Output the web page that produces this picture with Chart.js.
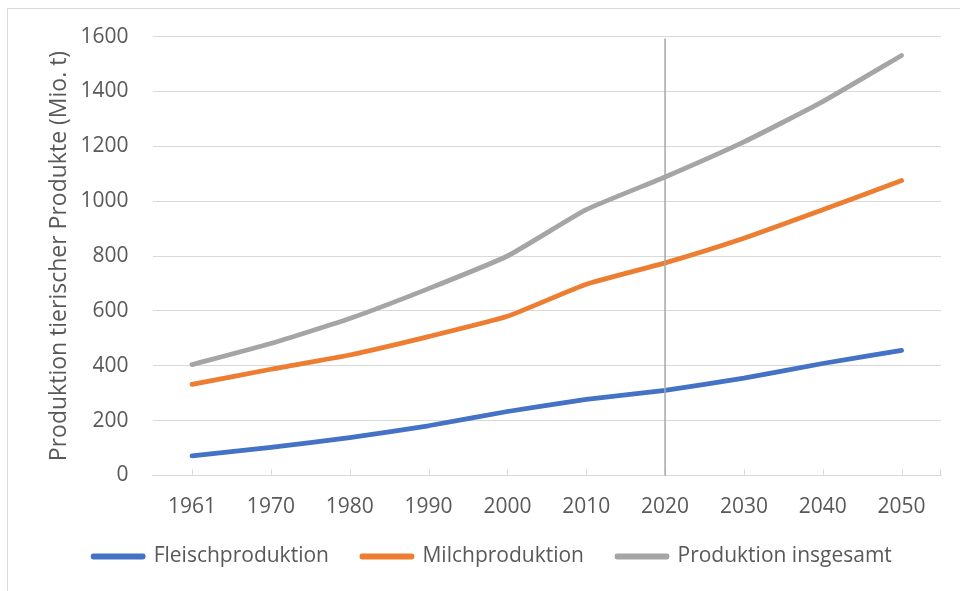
<!DOCTYPE html>
<html>
<head>
<meta charset="utf-8">
<script src="https://cdn.jsdelivr.net/npm/chart.js@4.4.1/dist/chart.umd.min.js"></script>
<style>
  html, body { margin: 0; padding: 0; background: #fff; overflow: hidden; }
  #frame { position: absolute; left: 7px; top: 8px; width: 1000px; height: 1000px;
           border-left: 1px solid #d9d9d9; border-top: 1px solid #d9d9d9; }
  #chart { position: absolute; left: 0; top: 0; }
</style>
</head>
<body>
<div id="frame"></div>
<canvas id="chart" width="960" height="591"></canvas>
<script>
// values (Mio. t)
const years = ['1961', '1970', '1980', '1990', '2000', '2010', '2020', '2030', '2040', '2050'];
const fleisch = [71, 102, 138, 181, 233, 277, 310, 355, 408, 456];
const milch = [332, 387, 439, 506, 580, 697, 775, 865, 969, 1075];
const gesamt = [404, 481, 572, 681, 800, 969, 1088, 1216, 1363, 1531];
const yMax = 1600;
const yStep = 200;
const markerYear = '2020';

const textColor = '#595959';
const gridColor = '#d9d9d9';

// inner tick marks on the category axis + vertical marker line at 2020
const overlay = {
    id: 'overlay',
    beforeDatasetsDraw(chart) {
        const {ctx, chartArea, scales: {x}} = chart;
        ctx.save();
        ctx.strokeStyle = gridColor;
        ctx.lineWidth = 1;
        ctx.beginPath();
        years.forEach((yr, i) => {
            const px = Math.round(x.getPixelForValue(i)) + 0.5;
            ctx.moveTo(px, chartArea.bottom);
            ctx.lineTo(px, chartArea.bottom - 6);
        });
        const rx = Math.round(chartArea.right) - 0.5;
        ctx.moveTo(rx, chartArea.bottom);
        ctx.lineTo(rx, chartArea.bottom - 6);
        ctx.stroke();
        ctx.restore();
    },
    afterDatasetsDraw(chart) {
        const {ctx, scales: {x, y}} = chart;
        const px = x.getPixelForValue(years.indexOf(markerYear));
        ctx.save();
        ctx.strokeStyle = '#a6a6a6';
        ctx.lineWidth = 1.5;
        ctx.beginPath();
        ctx.moveTo(px, y.getPixelForValue(yMax) + 2);
        ctx.lineTo(px, y.getPixelForValue(0));
        ctx.stroke();
        ctx.restore();
    }
};

function series(label, data, color) {
    return {
        label: label,
        data: data,
        borderColor: color,
        backgroundColor: color,
        borderWidth: 4.8,
        borderCapStyle: 'round',
        borderJoinStyle: 'round',
        pointRadius: 0,
        pointHoverRadius: 0,
        tension: 0.15,
        fill: false
    };
}

const ctx = document.getElementById('chart').getContext('2d');
const chart = new Chart(ctx, {
    type: 'line',
    data: {
        labels: years,
        datasets: [
            series('Fleischproduktion', fleisch, '#4472c4'),
            series('Milchproduktion', milch, '#ed7d31'),
            series('Produktion insgesamt', gesamt, '#a5a5a5')
        ]
    },
    plugins: [overlay],
    options: {
        responsive: false,
        animation: false,
        layout: {
            padding: {left: 44, right: 19, top: 27, bottom: 14}
        },
        scales: {
            x: {
                offset: true,
                grid: {drawOnChartArea: false, drawTicks: true, tickLength: 25, tickColor: 'rgba(0,0,0,0)'},
                border: {display: true, color: gridColor, width: 1},
                ticks: {
                    color: textColor,
                    padding: 0,
                    maxRotation: 0,
                    font: {family: 'Open Sans', size: 21, lineHeight: 0.6}
                }
            },
            y: {
                min: 0,
                max: yMax,
                grid: {color: gridColor, lineWidth: 1, drawTicks: false},
                border: {display: false},
                ticks: {
                    stepSize: yStep,
                    color: textColor,
                    padding: 24,
                    font: {family: 'Open Sans', size: 21},
                    callback: (v) => String(v)
                },
                title: {
                    display: true,
                    text: 'Produktion tierischer Produkte (Mio. t)',
                    color: textColor,
                    padding: {top: 2, bottom: -17},
                    font: {family: 'Open Sans', size: 23, weight: 'normal'}
                }
            }
        },
        plugins: {
            legend: {
                display: true,
                position: 'bottom',
                labels: {
                    boxWidth: 50,
                    boxHeight: 1,
                    padding: 33,
                    color: textColor,
                    font: {family: 'Open Sans', size: 21}
                }
            },
            tooltip: {enabled: false}
        }
    }
});
</script>
</body>
</html>
